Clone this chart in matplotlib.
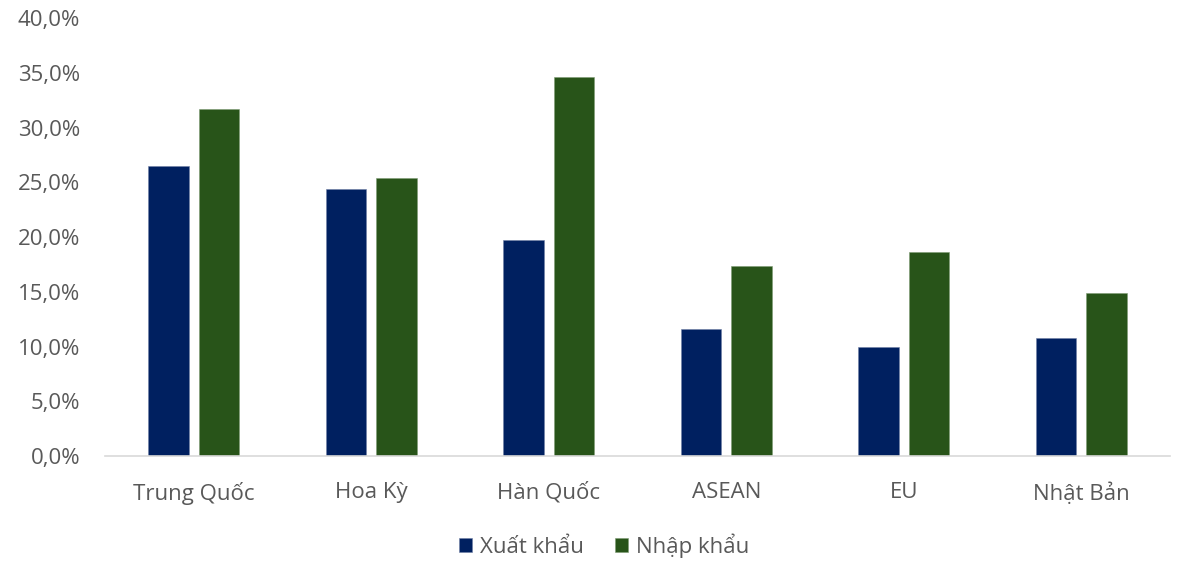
import matplotlib
matplotlib.use("Agg")
import matplotlib.pyplot as plt
import numpy as np
from matplotlib.ticker import FuncFormatter, MultipleLocator

categories = ["Trung Quốc", "Hoa Kỳ", "Hàn Quốc", "ASEAN", "EU", "Nhật Bản"]
xuat_khau = [26.5, 24.4, 19.7, 11.6, 10.0, 10.8]
nhap_khau = [31.7, 25.4, 34.6, 17.4, 18.6, 14.9]
series_names = ["Xuất khẩu", "Nhập khẩu"]

plt.rcParams["font.family"] = ["Open Sans", "DejaVu Sans"]

fig = plt.figure(figsize=(11.78, 5.62), dpi=100)
ax = fig.add_axes([105 / 1178, 106 / 562, 1065 / 1178, (456 - 18.3) / 562])

x = np.arange(len(categories))
w = 0.2255
off = 0.1423
navy = "#002060"
green = "#285419"
ax.bar(x - off, xuat_khau, width=w, color=navy, edgecolor="#6f7fa6", linewidth=0.4, label=series_names[0])
ax.bar(x + off, nhap_khau, width=w, color=green, edgecolor="#7f9b74", linewidth=0.4, label=series_names[1])

ax.set_xlim(-0.5, 5.5)
ax.set_ylim(0, 40)
ax.yaxis.set_major_locator(MultipleLocator(5))
ax.yaxis.set_major_formatter(FuncFormatter(lambda v, p: f"{v:.1f}%".replace(".", ",")))
ax.set_xticks(x)
ax.set_xticklabels(categories)

for s in ["top", "right", "left"]:
    ax.spines[s].set_visible(False)
ax.spines["bottom"].set_color("#D9D9D9")
ax.spines["bottom"].set_linewidth(1.2)
ax.tick_params(axis="both", length=0, labelsize=16, colors="#595959")
ax.tick_params(axis="x", pad=19)
ax.tick_params(axis="y", pad=18)

fig.legend(loc="center", bbox_to_anchor=(604 / 1178, 16 / 562), ncol=2, frameon=False,
           fontsize=16, labelcolor="#595959", handlelength=0.6, handleheight=0.6,
           handletextpad=0.35, columnspacing=1.4)

fig.savefig("out.png", dpi=100)
